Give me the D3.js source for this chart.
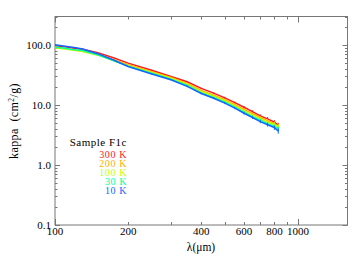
<!DOCTYPE html>
<html>
<head>
<meta charset="utf-8">
<script src="https://cdn.jsdelivr.net/npm/d3@7"></script>
<style>
  body { margin: 0; background: #fff; }
  text { font-family: "Liberation Serif", "DejaVu Serif", serif; }
</style>
</head>
<body>
<div class="chart"></div>
<script>
// wavelengths (micron) and kappa values (cm^2/g) per temperature
var lambda   = [100, 110, 120, 125, 130, 150, 175, 200, 250, 300, 350, 400, 450, 500, 550, 600, 650, 700, 750, 800, 830];
var k300 = [98, 94, 89, 87, 85, 75, 61, 50, 38, 30, 24.5, 19, 15.8, 13.2, 11, 9.2, 7.8, 6.6, 5.9, 5.2, 4.6];
var k200 = [93, 88, 83, 81, 79, 70, 57, 47, 36, 29, 23, 17.6, 14.6, 12.3, 10.2, 8.5, 7.2, 6.2, 5.5, 4.9, 4.4];
var k100 = [90, 86, 82, 80, 78, 68, 55, 45.5, 35, 28, 22, 16.8, 14, 11.8, 9.7, 8.0, 6.8, 5.9, 5.2, 4.7, 4.3];
var k30  = [93, 89, 84, 83, 81, 69, 55, 44.5, 34, 27, 21.2, 16, 13.4, 11.2, 9.2, 7.6, 6.4, 5.6, 4.9, 4.4, 4.0];
var k10  = [101, 96, 91, 89, 86, 72, 56, 44, 33, 26.5, 20.5, 15.6, 13, 10.8, 8.9, 7.3, 6.2, 5.3, 4.7, 4.2, 3.7];
// relative error bar size at each wavelength
var errFrac = [0, 0, 0, 0, 0, 0, 0, 0, 0.02, 0.02, 0.03, 0.03, 0.03, 0.04, 0.04, 0.05, 0.05, 0.06, 0.07, 0.08, 0.1];

var temps  = ["300 K", "200 K", "100 K", "30 K", "10 K"];
var colors = ["#ff1a1a", "#ffb000", "#c4ff00", "#00ff9c", "#1464ff"];
var seriesVals = [k300, k200, k100, k30, k10];

var xTicks = [100, 200, 300, 400, 500, 600, 700, 800, 900, 1000];
var xLabels = [100, 200, 400, 600, 800, 1000];
var yMajor = [0.1, 1, 10, 100];
var yLabels = ["0.1", "1.0", "10.0", "100.0"];

var W = 364, H = 260;
var svg = d3.select(".chart").append("svg")
    .attr("width", W)
    .attr("height", H);

var x = d3.scaleLog().domain([100, 1600]).range([55, 347.5]);
var y = d3.scaleLog().domain([0.1, 300]).range([225, 16.5]);

var axisCol = "#777";

// frame
svg.append("rect")
    .attr("x", x.range()[0]).attr("y", y.range()[1])
    .attr("width", x.range()[1] - x.range()[0])
    .attr("height", y.range()[0] - y.range()[1])
    .attr("fill", "none").attr("stroke", axisCol).attr("stroke-width", 1);

// x ticks top and bottom
xTicks.forEach(function(t){
    var len = (t == 100 || t == 1000) ? 6 : 3;
    var xp = Math.round(x(t)) + 0.5;
    svg.append("line").attr("x1", xp).attr("x2", xp)
        .attr("y1", y.range()[0]).attr("y2", y.range()[0] - len)
        .attr("stroke", axisCol);
    svg.append("line").attr("x1", xp).attr("x2", xp)
        .attr("y1", y.range()[1]).attr("y2", y.range()[1] + len)
        .attr("stroke", axisCol);
});

svg.selectAll(".xlab")
    .data(xLabels)
    .enter().append("text")
    .attr("class", "xlab")
    .attr("x", function(d){ return x(d); })
    .attr("y", 235)
    .attr("text-anchor", "middle")
    .style("font-size", "11px")
    .text(function(d){ return d; });

// y ticks left and right
var yTicks = [];
yMajor.forEach(function(m){
    for (var i = 1; i <= 9; i++) {
        var v = m * i;
        if (v <= 300) yTicks.push({v: v, major: i == 1});
    }
});
yTicks.forEach(function(t){
    var len = t.major ? 5 : 2.5;
    var yp = Math.round(y(t.v)) + 0.5;
    svg.append("line").attr("x1", x.range()[0]).attr("x2", x.range()[0] + len)
        .attr("y1", yp).attr("y2", yp).attr("stroke", axisCol);
    svg.append("line").attr("x1", x.range()[1]).attr("x2", x.range()[1] - len)
        .attr("y1", yp).attr("y2", yp).attr("stroke", axisCol);
});

svg.selectAll(".ylab")
    .data(yMajor)
    .enter().append("text")
    .attr("class", "ylab")
    .attr("x", 51)
    .attr("y", function(d){ return y(d) + 4; })
    .attr("text-anchor", "end")
    .style("font-size", "11px")
    .text(function(d, i){ return yLabels[i]; });

// axis titles
svg.append("text")
    .attr("x", 201).attr("y", 251)
    .attr("text-anchor", "middle")
    .style("font-size", "11.5px")
    .text("λ(μm)");

var yt = svg.append("text")
    .attr("transform", "translate(18,121) rotate(-90)")
    .attr("text-anchor", "middle")
    .style("font-size", "12px")
    .style("letter-spacing", "0.4px");
yt.append("tspan").text("kappa\u00a0\u00a0(cm");
yt.append("tspan").attr("dy", -4).style("font-size", "7.5px").text("2");
yt.append("tspan").attr("dy", 4).text("/g)");

// curves with error bars
var line = d3.line()
    .x(function(d){ return x(d[0]); })
    .y(function(d){ return y(d[1]); });

seriesVals.forEach(function(vals, s){
    var pts = lambda.map(function(l, i){ return [l, vals[i], errFrac[i]]; });
    var g = svg.append("g");
    g.selectAll(".err")
        .data(pts.filter(function(p){ return p[2] > 0; }))
        .enter().append("line")
        .attr("x1", function(p){ return x(p[0]); })
        .attr("x2", function(p){ return x(p[0]); })
        .attr("y1", function(p){ return y(p[1] * (1 - p[2])); })
        .attr("y2", function(p){ return y(p[1] * (1 + p[2])); })
        .attr("stroke", colors[s]).attr("stroke-width", 1);
    g.append("path")
        .datum(pts)
        .attr("d", line)
        .attr("fill", "none")
        .attr("stroke", colors[s])
        .attr("stroke-width", 1.5);
});

// legend
svg.append("text")
    .attr("x", 127).attr("y", 145.5)
    .attr("text-anchor", "end")
    .style("font-size", "11px")
    .style("letter-spacing", "0.5px")
    .text("Sample F1c");

svg.selectAll(".leg")
    .data(temps)
    .enter().append("text")
    .attr("class", "leg")
    .attr("x", 127)
    .attr("y", function(d, i){ return 157.5 + i * 9.2; })
    .attr("text-anchor", "end")
    .attr("fill", function(d, i){ return colors[i]; })
    .style("font-size", "10px")
    .style("letter-spacing", "0.6px")
    .text(function(d){ return d; });
</script>
</body>
</html>
